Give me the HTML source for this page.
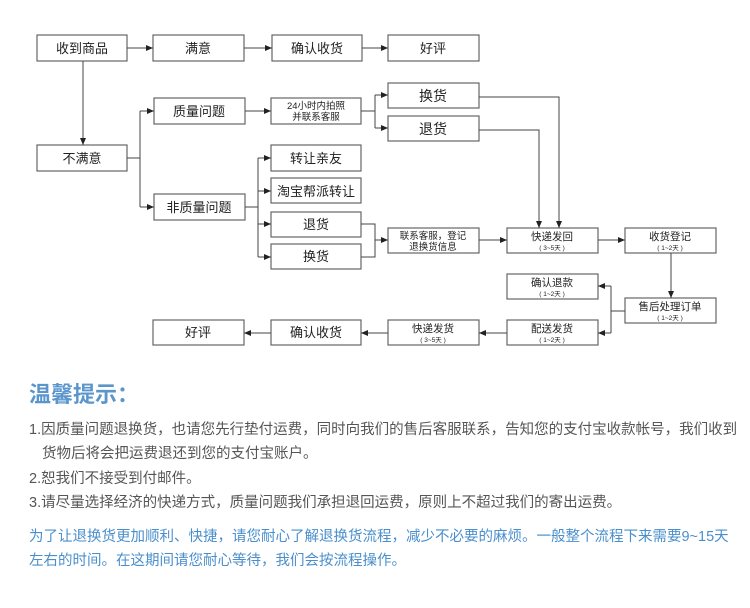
<!DOCTYPE html>
<html><head><meta charset="utf-8"><style>
body{margin:0;width:750px;height:608px;background:#fff;position:relative;overflow:hidden;font-family:"Liberation Sans","Noto Sans CJK SC",sans-serif}
.t{position:absolute;white-space:nowrap;font-size:14.5px;color:#555}
.b{color:#4a8fcc}
</style></head><body>
<svg width="750" height="360" style="position:absolute;left:0;top:0" font-family="Liberation Sans, Noto Sans CJK SC, sans-serif">
<defs><marker id="a" markerWidth="8" markerHeight="8" refX="7" refY="4" orient="auto" markerUnits="userSpaceOnUse"><path d="M0,1 L7,4 L0,7z" fill="#222"/></marker></defs>
<g fill="#fff" stroke="#666" stroke-width="1.2">
<rect x="37" y="35" width="90" height="26"/><rect x="153" y="35" width="91" height="26"/><rect x="272" y="35" width="90" height="26"/><rect x="388" y="35" width="91" height="26"/>
<rect x="37" y="145" width="90" height="26"/><rect x="154" y="98" width="91" height="26"/><rect x="154" y="194" width="91" height="26"/>
<rect x="271" y="98" width="90" height="26"/><rect x="388" y="83" width="91" height="25"/><rect x="388" y="116" width="91" height="25"/>
<rect x="271" y="145" width="90" height="26"/><rect x="271" y="178" width="90" height="25"/><rect x="271" y="212" width="90" height="25"/><rect x="271" y="244" width="90" height="25"/>
<rect x="388" y="228" width="91" height="25"/><rect x="507" y="228" width="91" height="25"/><rect x="625" y="228" width="91" height="25"/>
<rect x="625" y="298" width="91" height="25"/><rect x="507" y="274" width="91" height="25"/><rect x="507" y="320" width="91" height="25"/>
<rect x="388" y="320" width="91" height="25"/><rect x="271" y="320" width="90" height="25"/><rect x="153" y="320" width="91" height="25"/>
</g>
<g fill="none" stroke="#444" stroke-width="1">
<path d="M127,48H153" marker-end="url(#a)"/><path d="M244,48H272" marker-end="url(#a)"/><path d="M362,48H388" marker-end="url(#a)"/>
<path d="M83,61V145" marker-end="url(#a)"/>
<path d="M127,158H140"/><path d="M140,111V207"/><path d="M140,111H154" marker-end="url(#a)"/><path d="M140,207H154" marker-end="url(#a)"/>
<path d="M245,111H271" marker-end="url(#a)"/>
<path d="M361,111H375"/><path d="M375,95V128"/><path d="M375,95H388" marker-end="url(#a)"/><path d="M375,128H388" marker-end="url(#a)"/>
<path d="M479,97H559V228" marker-end="url(#a)"/><path d="M479,130H539V228" marker-end="url(#a)"/>
<path d="M245,207H258"/><path d="M258,158V257"/>
<path d="M258,158H271" marker-end="url(#a)"/><path d="M258,191H271" marker-end="url(#a)"/><path d="M258,224H271" marker-end="url(#a)"/><path d="M258,257H271" marker-end="url(#a)"/>
<path d="M361,224H375V257H361"/><path d="M375,240H388" marker-end="url(#a)"/>
<path d="M479,240H507" marker-end="url(#a)"/><path d="M598,240H625" marker-end="url(#a)"/>
<path d="M671,253V298" marker-end="url(#a)"/>
<path d="M625,311H611"/><path d="M611,286V333"/><path d="M611,286H598" marker-end="url(#a)"/><path d="M611,333H598" marker-end="url(#a)"/>
<path d="M507,333H479" marker-end="url(#a)"/><path d="M388,333H361" marker-end="url(#a)"/><path d="M271,333H244" marker-end="url(#a)"/>
</g>
<g fill="#222" font-size="13" text-anchor="middle">
<text x="82" y="53">收到商品</text><text x="198" y="53">满意</text><text x="317" y="53">确认收货</text><text x="433" y="53">好评</text>
<text x="82" y="163">不满意</text><text x="199" y="116">质量问题</text><text x="199" y="212">非质量问题</text>
<text x="316" y="109" font-size="9.5">24小时内拍照</text><text x="316" y="120" font-size="9.5">并联系客服</text>
<text x="433" y="101" font-size="14">换货</text><text x="433" y="134" font-size="14">退货</text>
<text x="316" y="163">转让亲友</text><text x="316" y="196">淘宝帮派转让</text><text x="316" y="229">退货</text><text x="316" y="261">换货</text>
<text x="433" y="239" font-size="9.5">联系客服，登记</text><text x="433" y="250" font-size="9.5">退换货信息</text>
<text x="552" y="240" font-size="10.5">快递发回</text><text x="552" y="250" font-size="6.5">( 3~5天 )</text>
<text x="670" y="240" font-size="10.5">收货登记</text><text x="670" y="250" font-size="6.5">( 1~2天 )</text>
<text x="670" y="310" font-size="10.5">售后处理订单</text><text x="670" y="320" font-size="6.5">( 1~2天 )</text>
<text x="552" y="286" font-size="10.5">确认退款</text><text x="552" y="296" font-size="6.5">( 1~2天 )</text>
<text x="552" y="332" font-size="10.5">配送发货</text><text x="552" y="342" font-size="6.5">( 1~2天 )</text>
<text x="433" y="332" font-size="10.5">快递发货</text><text x="433" y="342" font-size="6.5">( 3~5天 )</text>
<text x="316" y="337">确认收货</text><text x="198" y="337">好评</text>
</g>
</svg>
<div class="t b" style="left:29px;top:377px;font-size:22px;font-weight:bold;color:#5a96cc">温馨提示：</div>
<div class="t" style="left:29px;top:418px">1.因质量问题退换货，也请您先行垫付运费，同时向我们的售后客服联系，告知您的支付宝收款帐号，我们收到</div>
<div class="t" style="left:42px;top:442px">货物后将会把运费退还到您的支付宝账户。</div>
<div class="t" style="left:29px;top:467px">2.恕我们不接受到付邮件。</div>
<div class="t" style="left:29px;top:491px">3.请尽量选择经济的快递方式，质量问题我们承担退回运费，原则上不超过我们的寄出运费。</div>
<div class="t b" style="left:29px;top:525px">为了让退换货更加顺利、快捷，请您耐心了解退换货流程，减少不必要的麻烦。一般整个流程下来需要9~15天</div>
<div class="t b" style="left:29px;top:549px">左右的时间。在这期间请您耐心等待，我们会按流程操作。</div>
</body></html>
